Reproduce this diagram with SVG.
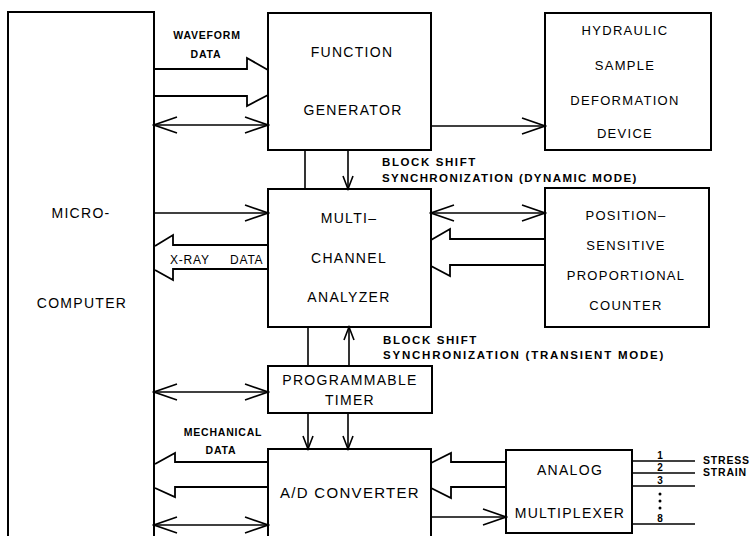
<svg xmlns="http://www.w3.org/2000/svg" width="755" height="536" viewBox="0 0 755 536">
<style>
.box{fill:none;stroke:#000;stroke-width:2}
.ln{fill:none;stroke:#000;stroke-width:1.6}
.wa{fill:none;stroke:#000;stroke-width:1.8;stroke-linejoin:miter}
.t{font-family:"Liberation Sans",Arial,sans-serif;font-size:14px;letter-spacing:1.3px;fill:#000;text-anchor:middle}
.s{font-family:"Liberation Sans",Arial,sans-serif;font-size:10.5px;font-weight:bold;letter-spacing:0.8px;fill:#000}
.b{font-size:11.5px;letter-spacing:1.6px}
.c{text-anchor:middle}
.n{font-family:"Liberation Sans",Arial,sans-serif;font-size:10px;font-weight:bold;fill:#000;text-anchor:middle}
</style>
<defs>
<marker id="v" markerUnits="userSpaceOnUse" markerWidth="26" markerHeight="20" viewBox="-1 -10 26 20" refX="23" refY="0" orient="auto-start-reverse">
<path d="M0,-8 L23,0 L0,8" fill="none" stroke="#000" stroke-width="1.6"/>
</marker>
<marker id="vs" markerUnits="userSpaceOnUse" markerWidth="16" markerHeight="14" viewBox="-1 -7 16 14" refX="13" refY="0" orient="auto-start-reverse">
<path d="M0,-5 L13,0 L0,5" fill="none" stroke="#000" stroke-width="1.6"/>
</marker>
</defs>

<g id="microcomputer">
<path class="box" d="M8,540 V12 H154 V540"/>
<text class="t" x="81" y="218">MICRO-</text>
<text class="t" x="82" y="308">COMPUTER</text>
</g>

<g id="function-generator">
<rect class="box" x="268" y="13" width="163" height="137"/>
<text class="t" x="352" y="57">FUNCTION</text>
<text class="t" x="353" y="115">GENERATOR</text>
</g>

<g id="hydraulic-device">
<rect class="box" x="545" y="13" width="166" height="137"/>
<text class="t" x="625" y="35" style="font-size:13px">HYDRAULIC</text>
<text class="t" x="625" y="70" style="font-size:13px">SAMPLE</text>
<text class="t" x="625" y="105" style="font-size:13px">DEFORMATION</text>
<text class="t" x="625" y="138" style="font-size:13px">DEVICE</text>
</g>

<g id="multichannel-analyzer">
<rect class="box" x="268" y="189" width="163" height="138"/>
<text class="t" x="349" y="223">MULTI–</text>
<text class="t" x="349" y="263">CHANNEL</text>
<text class="t" x="349" y="302">ANALYZER</text>
</g>

<g id="position-sensitive-counter">
<rect class="box" x="545" y="188" width="164" height="139"/>
<text class="t" x="626" y="220" style="font-size:13px">POSITION–</text>
<text class="t" x="626" y="250" style="font-size:13px">SENSITIVE</text>
<text class="t" x="626" y="280" style="font-size:13px">PROPORTIONAL</text>
<text class="t" x="626" y="310" style="font-size:13px">COUNTER</text>
</g>

<g id="programmable-timer">
<rect class="box" x="268" y="366" width="164" height="47"/>
<text class="t" x="350" y="385">PROGRAMMABLE</text>
<text class="t" x="350" y="405">TIMER</text>
</g>

<g id="ad-converter">
<path class="box" d="M268,540 V449 H431 V540"/>
<text class="t" x="350" y="498" style="font-size:15px">A/D CONVERTER</text>
</g>

<g id="analog-multiplexer">
<rect class="box" x="506" y="450" width="126" height="83"/>
<text class="t" x="570" y="475">ANALOG</text>
<text class="t" x="570" y="518">MULTIPLEXER</text>
</g>

<g id="connectors">
<polyline class="wa" points="154,69 247,69 247,58 268,70"/>
<polyline class="wa" points="154,96 247,96 247,106 268,95"/>
<line class="ln" x1="154" y1="125" x2="268" y2="125" marker-start="url(#v)" marker-end="url(#v)"/>
<line class="ln" x1="431" y1="126" x2="545" y2="126" marker-end="url(#v)"/>
<line class="ln" x1="305" y1="150" x2="305" y2="189"/>
<line class="ln" x1="348" y1="150" x2="348" y2="189" marker-end="url(#vs)"/>
<line class="ln" x1="154" y1="213" x2="268" y2="213" marker-end="url(#v)"/>
<polyline class="wa" points="268,245 173,245 173,235 155,246"/>
<polyline class="wa" points="268,269 173,269 173,280 155,270"/>
<line class="ln" x1="431" y1="213" x2="545" y2="213" marker-start="url(#v)" marker-end="url(#v)"/>
<polyline class="wa" points="545,239 450,239 450,229 431,240"/>
<polyline class="wa" points="545,265 450,265 450,276 431,266"/>
<line class="ln" x1="308" y1="327" x2="308" y2="366"/>
<line class="ln" x1="349" y1="366" x2="349" y2="327" marker-end="url(#vs)"/>
<line class="ln" x1="154" y1="392" x2="268" y2="392" marker-start="url(#v)" marker-end="url(#v)"/>
<line class="ln" x1="308" y1="413" x2="308" y2="449" marker-end="url(#vs)"/>
<line class="ln" x1="348" y1="413" x2="348" y2="449" marker-end="url(#vs)"/>
<polyline class="wa" points="268,462 175,462 175,453 155,464"/>
<polyline class="wa" points="268,487 175,487 175,497 155,488"/>
<line class="ln" x1="154" y1="525" x2="268" y2="525" marker-start="url(#v)" marker-end="url(#v)"/>
<polyline class="wa" points="506,462 451,462 451,453 431,463"/>
<polyline class="wa" points="506,487 451,487 451,498 431,488"/>
<line class="ln" x1="431" y1="517" x2="506" y2="517" marker-end="url(#v)"/>
<line class="ln" x1="632" y1="461" x2="695" y2="461"/>
<line class="ln" x1="632" y1="473" x2="695" y2="473"/>
<line class="ln" x1="632" y1="486" x2="695" y2="486"/>
<line class="ln" x1="632" y1="524" x2="695" y2="524"/>
</g>

<g id="labels">
<text class="s c" x="207" y="39">WAVEFORM</text>
<text class="s c" x="206" y="58">DATA</text>
<text class="s b" x="382" y="166">BLOCK SHIFT</text>
<text class="s b" x="382" y="182" textLength="256" lengthAdjust="spacing">SYNCHRONIZATION (DYNAMIC MODE)</text>
<text class="s" x="170" y="264" style="font-weight:normal;font-size:12px">X-RAY</text>
<text class="s" x="230" y="264" style="font-weight:normal;font-size:12px">DATA</text>
<text class="s b" x="383" y="344">BLOCK SHIFT</text>
<text class="s b" x="383" y="359" textLength="282" lengthAdjust="spacing">SYNCHRONIZATION (TRANSIENT MODE)</text>
<text class="s c" x="223" y="436">MECHANICAL</text>
<text class="s c" x="221" y="454">DATA</text>
<text class="n" x="660" y="459">1</text>
<text class="n" x="660" y="471">2</text>
<text class="n" x="660" y="484">3</text>
<circle cx="660" cy="494" r="1.5"/>
<circle cx="660" cy="501" r="1.5"/>
<circle cx="660" cy="508" r="1.5"/>
<text class="n" x="660" y="522">8</text>
<text class="s" x="703" y="464">STRESS</text>
<text class="s" x="703" y="476">STRAIN</text>
</g>
</svg>
